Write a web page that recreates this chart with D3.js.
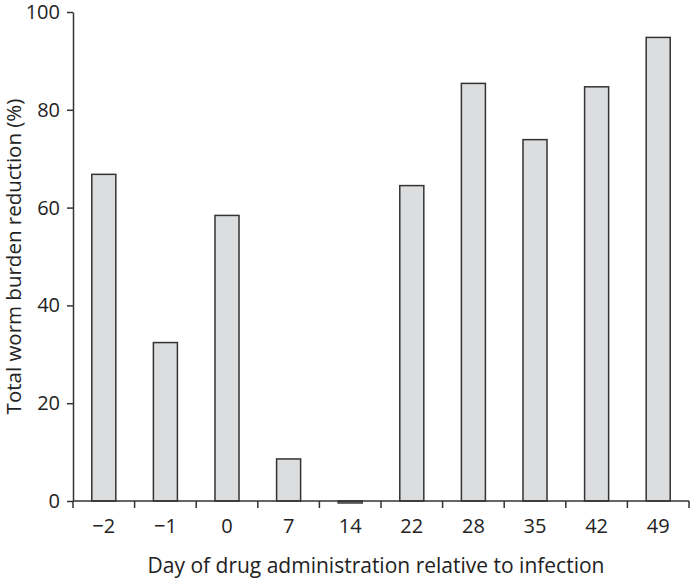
<!DOCTYPE html>
<html>
<head>
<meta charset="utf-8">
<script src="https://cdn.jsdelivr.net/npm/d3@7"></script>
<style>
  body { margin: 0; background: #fff; }
  svg { display: block; }
</style>
</head>
<body>
<script>
// data
const days = ['\u22122', '\u22121', '0', '7', '14', '22', '28', '35', '42', '49'];
const reduction = [66.8, 32.4, 58.4, 8.6, -0.4, 64.5, 85.4, 73.9, 84.7, 94.8];
const yTicks = [0, 20, 40, 60, 80, 100];

const width = 690;
const height = 580;
const margin = { top: 12, left: 73, bottom: 79, right: 1 };
const font = 'Open Sans, Lato, sans-serif';

const svg = d3.select('body').append('svg').attr('width', width).attr('height', height);

// scales
const x = d3
  .scaleBand()
  .domain(days)
  .range([margin.left, width - margin.right])
  .paddingInner(0.61)
  .paddingOuter(0.305);

const y = d3
  .scaleLinear()
  .domain([0, 100])
  .range([height - margin.bottom, margin.top]);

// bars
svg
  .append('g')
  .selectAll('rect')
  .data(reduction)
  .enter()
  .append('rect')
  .attr('x', (d, i) => x(days[i]))
  .attr('y', (d) => y(Math.max(d, 0)))
  .attr('width', x.bandwidth())
  .attr('height', (d) => Math.abs(y(0) - y(d)))
  .attr('fill', '#dcdddf')
  .attr('stroke', '#333')
  .attr('stroke-width', 1.5);

// y axis
const yAxis = svg
  .append('g')
  .attr('transform', `translate(${margin.left}, 0)`)
  .call(d3.axisLeft(y).tickValues(yTicks).tickSize(6).tickPadding(7).tickSizeOuter(0));

// x axis: ticks sit at the band edges, labels in the middle
const edges = days.map((d) => x(d) - (x.step() * x.paddingInner()) / 2);
edges.push(width - margin.right);

const xAxis = svg.append('g').attr('transform', `translate(0, ${y(0)})`);
xAxis
  .append('line')
  .attr('x1', margin.left)
  .attr('x2', width - margin.right)
  .attr('stroke', '#333')
  .attr('stroke-width', 1.5);
xAxis
  .selectAll('.edge')
  .data(edges)
  .enter()
  .append('line')
  .attr('x1', (d) => d)
  .attr('x2', (d) => d)
  .attr('y1', 0)
  .attr('y2', 7)
  .attr('stroke', '#333')
  .attr('stroke-width', 1.5);
xAxis
  .selectAll('.lab')
  .data(days)
  .enter()
  .append('text')
  .text((d) => d)
  .attr('x', (d) => x(d) + x.bandwidth() / 2)
  .attr('y', 32)
  .attr('text-anchor', 'middle')
  .attr('fill', '#222')
  .attr('font-family', font)
  .attr('font-size', '20px');

yAxis.select('.domain').attr('stroke', '#333').attr('stroke-width', 1.5);
yAxis.selectAll('.tick line').attr('stroke', '#333').attr('stroke-width', 1.5);
yAxis
  .selectAll('.tick text')
  .attr('fill', '#222')
  .attr('font-family', font)
  .attr('font-size', '20px');

// axis titles
svg
  .append('text')
  .text('Day of drug administration relative to infection')
  .attr('x', 376)
  .attr('y', 573)
  .attr('text-anchor', 'middle')
  .attr('fill', '#222')
  .attr('font-family', font)
  .attr('font-size', '21px');

svg
  .append('text')
  .text('Total worm burden reduction (%)')
  .attr('transform', `translate(21, ${y(50)}) rotate(-90)`)
  .attr('text-anchor', 'middle')
  .attr('fill', '#222')
  .attr('font-family', font)
  .attr('font-size', '20.5px');
</script>
</body>
</html>
